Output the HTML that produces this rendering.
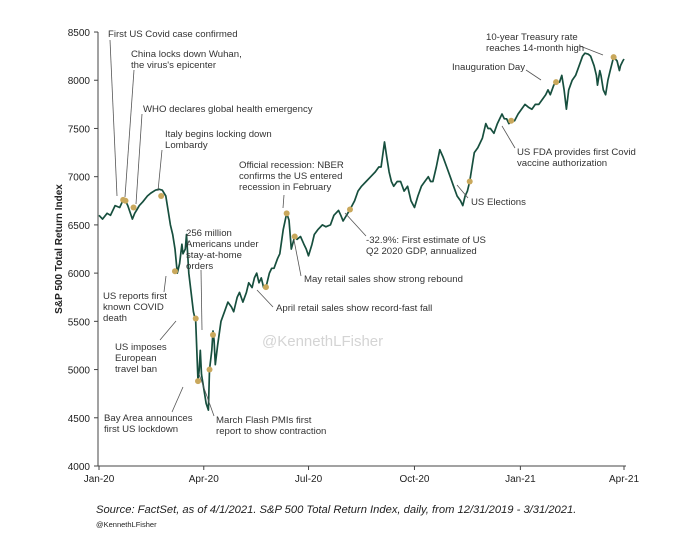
<!DOCTYPE html>
<html><head><meta charset="utf-8"><style>
body{margin:0;background:#fff;}
svg text{font-family:"Liberation Sans",Arial,sans-serif;}
</style></head><body>
<svg id="chart" width="680" height="540">
<g id="axes"></g>
<g id="ann"></g>
</svg>
<script>
const days=[0,3,7,10,14,18,21,23,25,27,29,31,33,35,38,42,45,49,52,55,58,60,62,64,66,68,70,72,73,75,76,78,80,82,84,86,87,88,89,91,93,95,96,98,99,100,101,103,106,109,112,115,117,120,122,125,128,130,133,135,137,139,141,143,145,148,150,152,155,157,160,163,165,167,170,172,175,178,180,182,185,187,190,194,197,201,204,208,210,212,215,218,222,225,228,232,236,240,243,245,248,250,252,254,256,259,262,265,268,271,274,277,280,283,286,288,290,293,296,299,302,305,308,311,314,316,318,320,322,324,326,329,333,336,338,340,343,346,348,350,352,354,356,358,361,364,367,370,373,376,379,382,385,388,390,392,395,397,400,402,404,406,408,411,414,417,420,422,425,427,430,432,433,435,436,438,440,442,444,447,450,452,453,455,456];
const values=[6600,6560,6620,6600,6700,6680,6760,6750,6700,6630,6560,6620,6660,6700,6740,6800,6830,6860,6870,6860,6800,6650,6500,6400,6250,6000,6100,6300,6200,6250,6400,6000,5800,5600,5500,4880,5000,5200,4950,4800,4650,4580,5000,5200,5400,5300,5050,5250,5500,5600,5700,5650,5600,5750,5800,5700,5800,5900,5850,5950,6000,5900,5950,5850,5850,6000,6050,6050,6150,6200,6450,6620,6550,6250,6380,6350,6380,6300,6250,6180,6300,6400,6450,6500,6480,6500,6600,6650,6600,6540,6600,6660,6750,6850,6900,6950,7000,7050,7100,7100,7360,7200,7050,6950,6900,6950,6950,6850,6900,6750,6680,6800,6900,6950,7000,6950,6950,7100,7280,7200,7100,7000,6900,6800,6750,6700,6800,6850,6950,7100,7250,7300,7400,7550,7500,7500,7450,7550,7600,7650,7600,7600,7550,7570,7580,7650,7700,7750,7720,7700,7750,7750,7800,7850,7900,7850,7950,7980,7980,8050,7900,7700,7900,8000,8050,8150,8250,8280,8270,8250,8150,8050,7950,8100,8050,7900,7850,8000,8100,8240,8200,8100,8150,8200,8220,8230];
const yTicks=[4000,4500,5000,5500,6000,6500,7000,7500,8000,8500];
const xTickLabels=["Jan-20","Apr-20","Jul-20","Oct-20","Jan-21","Apr-21"];
const xTickDays=[0,91,182,274,366,456];
const starDays=[21,23,30,54,66,84,86,96,99,145,163,170,218,322,358,397,447];
const starValues=[6760,6750,6680,6800,6020,5530,4880,5000,5360,5855,6620,6380,6660,6950,7580,7980,8240];
const NS="http://www.w3.org/2000/svg";
const X=d=>99+d*(525/456), Y=v=>466-(v-4000)*0.09644;
function mk(tag,attrs,parent,txt){const e=document.createElementNS(NS,tag);for(const k in attrs)e.setAttribute(k,attrs[k]);if(txt!==undefined)e.textContent=txt;parent.appendChild(e);return e;}
const ax=document.getElementById('axes'),an=document.getElementById('ann');
let e=mk('line',{x1:98,y1:32,x2:98,y2:466,stroke:'#444','stroke-width':1},ax);

e=mk('line',{x1:98,y1:466,x2:626,y2:466,stroke:'#444','stroke-width':1},ax);

yTicks.forEach(v=>{mk('line',{x1:94,y1:Y(v),x2:98,y2:Y(v),stroke:'#444'},ax);
 const t=mk('text',{x:90,y:Y(v)+4,'font-size':10,'text-anchor':'end',fill:'#222'},ax,String(v));
 });
xTickLabels.forEach((l,i)=>{mk('line',{x1:X(xTickDays[i]),y1:466,x2:X(xTickDays[i]),y2:470,stroke:'#444'},ax);
 const t=mk('text',{x:X(xTickDays[i]),y:482,'font-size':10,'text-anchor':'middle',fill:'#222'},ax,l);
 });
e=mk('text',{x:0,y:0,'font-size':10,'font-weight':'bold','text-anchor':'middle',transform:'translate(62,249) rotate(-90)',fill:'#222'},ax,'S&P 500 Total Return Index');

e=mk('text',{x:262,y:346,'font-size':15,fill:'#d4d4d4'},ax,'@KennethLFisher');

const pts=days.map((d,i)=>X(d).toFixed(1)+','+Y(values[i]).toFixed(1)).join(' ');
e=mk('polyline',{points:pts,fill:'none',stroke:'#174f3e','stroke-width':1.7,'stroke-linejoin':'round'},ax);

const anns=[
 [["First US Covid case confirmed"],108,37,[110,40],[117,196]],
 [["China locks down Wuhan,","the virus's epicenter"],131,57,[134,70],[125,197]],
 [["WHO declares global health emergency"],143,112,[142,114],[136,204]],
 [["Italy begins locking down","Lombardy"],165,137,[162,150],[158,191]],
 [["Official recession: NBER","confirms the US entered","recession in February"],239,168,[284,195],[283,208]],
 [["256 million","Americans under","stay-at-home","orders"],186,236,[201,270],[202,330]],
 [["US reports first","known COVID","death"],103,299,[164,292],[166,276]],
 [["US imposes","European","travel ban"],115,350,[160,340],[176,321]],
 [["Bay Area announces","first US lockdown"],104,421,[172,412],[183,387]],
 [["March Flash PMIs first","report to show contraction"],216,423,[214,416],[199,374]],
 [["April retail sales show record-fast fall"],276,311,[273,307],[257,290]],
 [["May retail sales show strong rebound"],304,282,[301,276],[294,240]],
 [["-32.9%: First estimate of US","Q2 2020 GDP, annualized"],366,243,[366,236],[345,213]],
 [["US Elections"],471,205,[468,198],[457,185]],
 [["US FDA provides first Covid","vaccine authorization"],517,155,[515,148],[502,126]],
 [["Inauguration Day"],452,70,[526,70],[541,80]],
 [["10-year Treasury rate","reaches 14-month high"],486,40,[580,46],[603,55]]];
anns.forEach(a=>{
 const g=mk('g',{},an);
 mk('line',{x1:a[3][0],y1:a[3][1],x2:a[4][0],y2:a[4][1],stroke:'#555','stroke-width':0.8},g);
 a[0].forEach((l,i)=>mk('text',{x:a[1],y:a[2]+i*11,'font-size':9.6,fill:'#333'},g,l));
});
starDays.forEach((d,i)=>{const c=mk('circle',{cx:X(d),cy:Y(starValues[i]),r:3,fill:'#c9a85c'},an);
 });
e=mk('text',{x:96,y:513,'font-size':11.2,'font-style':'italic',fill:'#222'},ax,'Source: FactSet, as of 4/1/2021. S&P 500 Total Return Index, daily, from 12/31/2019 - 3/31/2021.');

e=mk('text',{x:96,y:527,'font-size':7.5,fill:'#222'},ax,'@KennethLFisher');

</script>
</body></html>
